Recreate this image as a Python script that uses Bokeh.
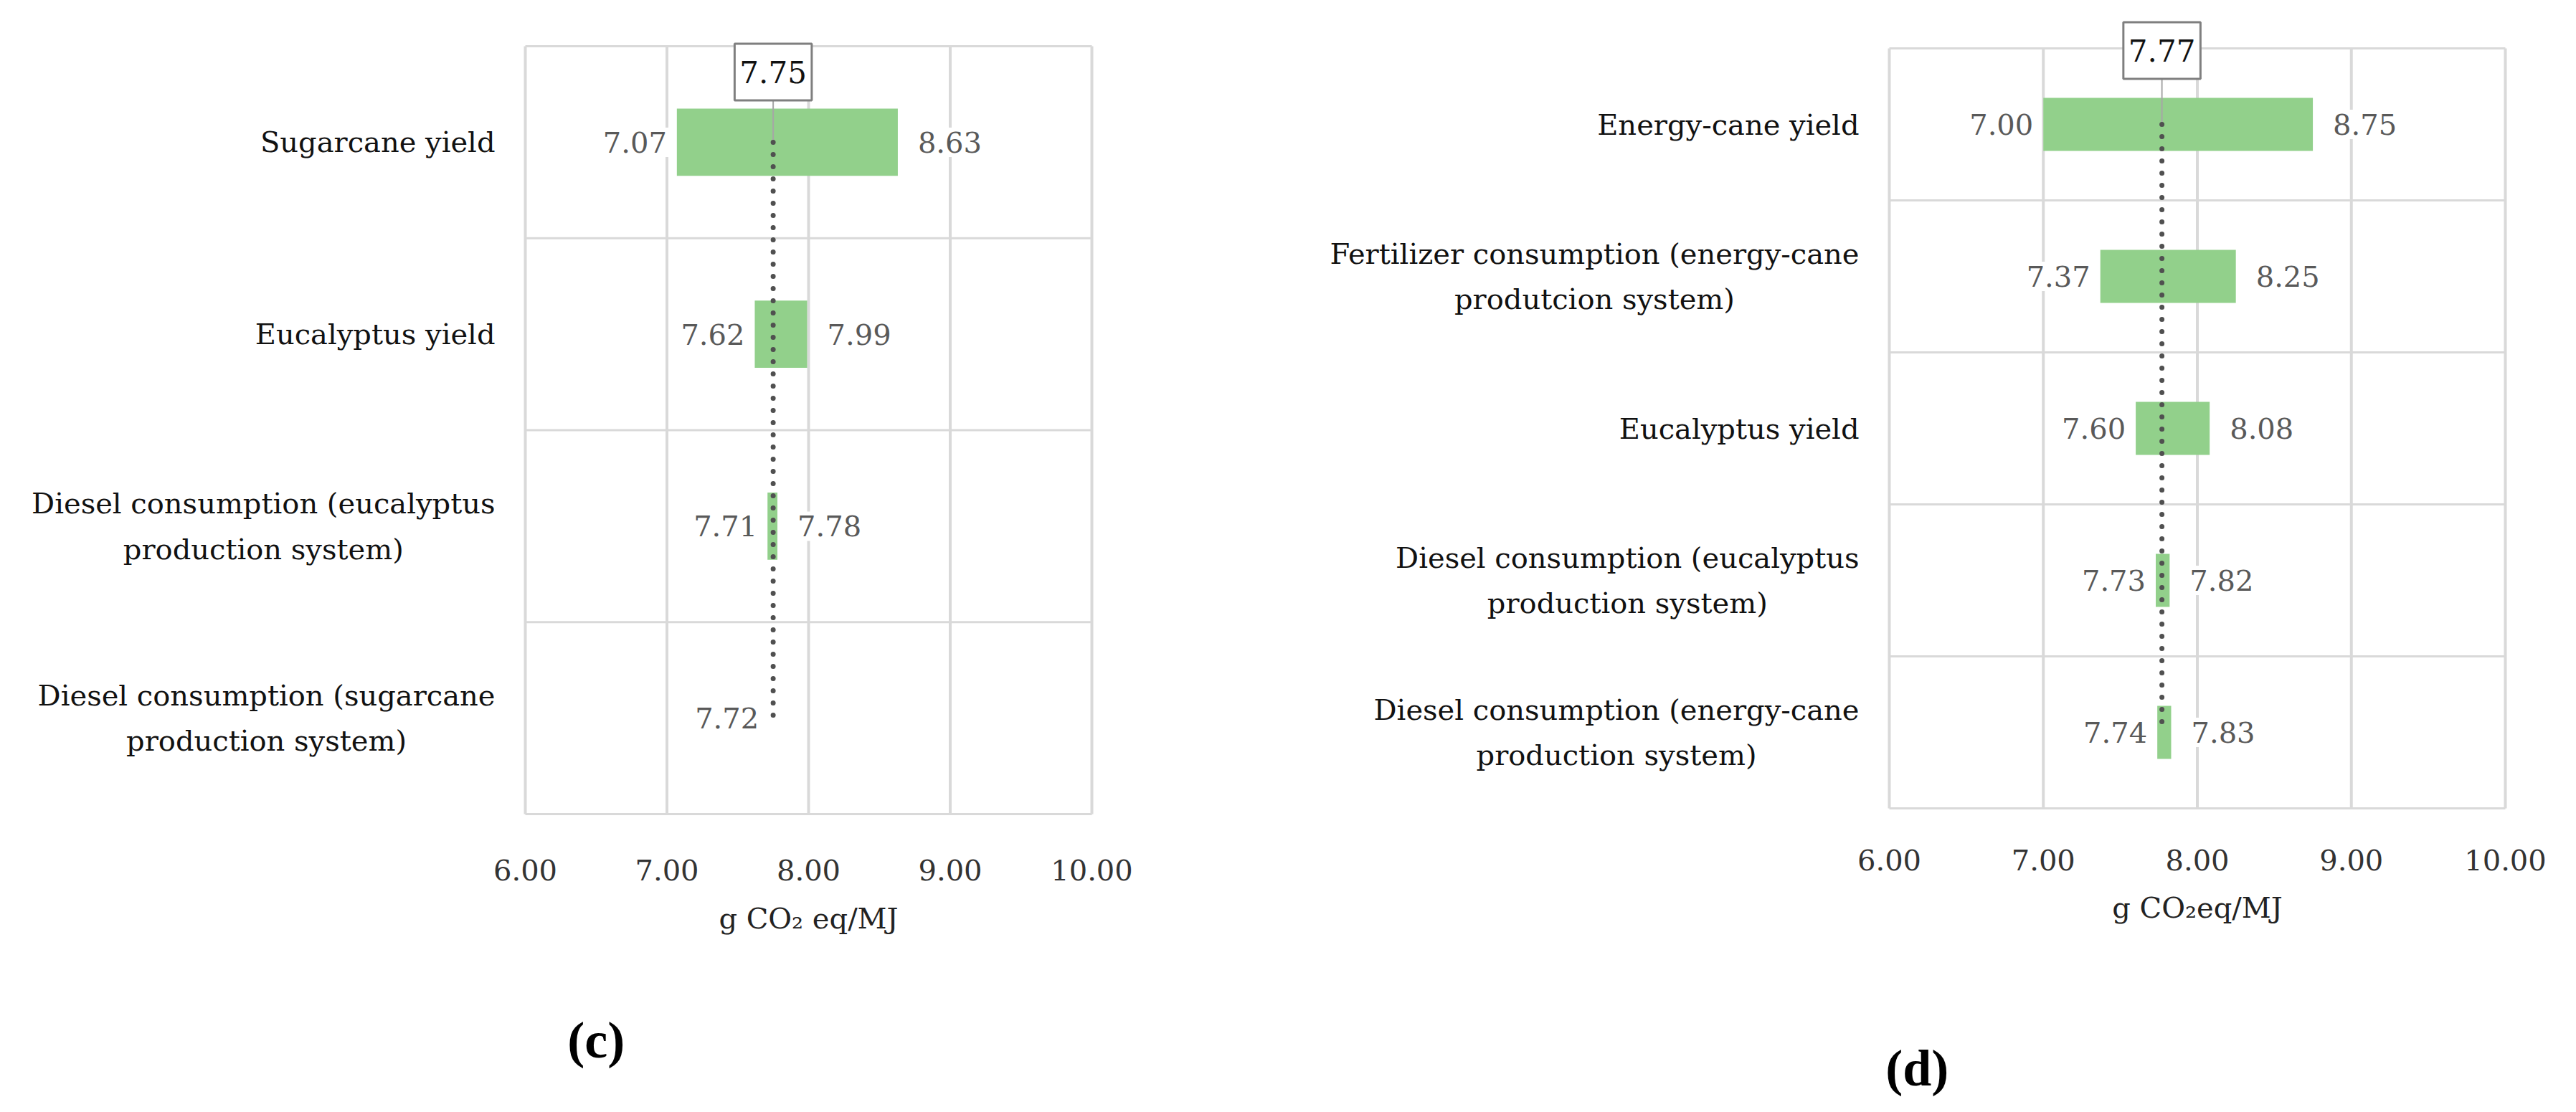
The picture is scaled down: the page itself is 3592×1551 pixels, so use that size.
from bokeh.plotting import figure
from bokeh.models import Range1d, Label
from bokeh.layouts import row
from bokeh.embed import file_html
from bokeh.resources import INLINE

# ---------------- data ----------------
# Panel (c)
c_categories = [
    "Sugarcane yield",
    "Eucalyptus yield",
    "Diesel consumption (eucalyptus\nproduction system)",
    "Diesel consumption (sugarcane\nproduction system)",
]
c_low = [7.07, 7.62, 7.71, 7.72]
c_high = [8.63, 7.99, 7.78, None]
c_base = 7.75
c_axis_title = "g CO\u2082 eq/MJ"
c_panel_label = "(c)"

# Panel (d)
d_categories = [
    "Energy-cane yield",
    "Fertilizer consumption (energy-cane\nprodutcion system)",
    "Eucalyptus yield",
    "Diesel consumption (eucalyptus\nproduction system)",
    "Diesel consumption (energy-cane\nproduction system)",
]
d_low = [7.00, 7.37, 7.60, 7.73, 7.74]
d_high = [8.75, 8.25, 8.08, 7.82, 7.83]
d_base = 7.77
d_axis_title = "g CO\u2082eq/MJ"
d_panel_label = "(d)"

x_ticks = [6, 7, 8, 9, 10]
x_tick_labels = ["6.00", "7.00", "8.00", "9.00", "10.00"]

# ---------------- style ----------------
FONT = "DejaVu Serif"
BOLD_FONT = "Liberation Serif"
FS = "40px"
GREEN = "#92d08b"
GRID = "#d9d9d9"
VALUE_COLOR = "#595959"
FIG_W, FIG_H = 1788, 1535


def make_panel(categories, low, high, base, axis_title, panel_label, lay):
    n = len(categories)
    ys = [n - 1 - i for i in range(n)]
    x0, x1 = x_ticks[0], x_ticks[-1]
    # frame covers the whole figure; plot area placed through the ranges
    sx = (lay["plot_right"] - lay["plot_left"]) / (x1 - x0)
    xs = x0 - lay["plot_left"] / sx
    sy = (lay["plot_bottom"] - lay["plot_top"]) / n
    ys_ = -0.5 - (FIG_H - lay["plot_bottom"]) / sy
    p = figure(
        width=FIG_W, height=FIG_H,
        x_range=Range1d(xs, xs + FIG_W / sx),
        y_range=Range1d(ys_, ys_ + FIG_H / sy),
        output_backend="svg", toolbar_location=None,
        x_axis_location=None, y_axis_location=None,
        min_border=0,
    )
    p.min_border_left = p.min_border_right = p.min_border_top = p.min_border_bottom = 0
    p.outline_line_color = None
    p.grid.visible = False
    p.background_fill_color = "white"
    p.border_fill_color = "white"

    # grid lines
    p.segment(x0=x_ticks, y0=[-0.5] * len(x_ticks), x1=x_ticks, y1=[n - 0.5] * len(x_ticks),
              line_color=GRID, line_width=4)
    bounds = [i - 0.5 for i in range(n + 1)]
    p.segment(x0=[x0] * len(bounds), y0=bounds, x1=[x1] * len(bounds), y1=bounds,
              line_color=GRID, line_width=3)

    # bars
    by, bl, bh = [], [], []
    for y, lo, hi in zip(ys, low, high):
        if lo is not None and hi is not None:
            by.append(y); bl.append(lo); bh.append(hi)
    p.hbar(y=by, left=bl, right=bh, height=0.35, fill_color=GREEN, line_color=None)

    # connector from the base-value box and dotted base line
    p.segment(x0=[base], y0=[n - 0.5], x1=[base], y1=[n - 1],
              line_color="#a6a6a6", line_width=2)
    p.line(x=[base, base], y=[n - 1, 0], line_color="#505050", line_width=7,
           line_dash="0 17", line_cap="round")

    # value labels
    for y, lo, hi in zip(ys, low, high):
        if lo is not None:
            p.add_layout(Label(x=lo, y=y, x_offset=-8, text=f"{lo:.2f}",
                               text_font=FONT, text_font_size=FS, text_color=VALUE_COLOR,
                               text_align="right", text_baseline="middle",
                               background_fill_color="white", padding=6))
        if hi is not None:
            p.add_layout(Label(x=hi, y=y, x_offset=22, text=f"{hi:.2f}",
                               text_font=FONT, text_font_size=FS, text_color=VALUE_COLOR,
                               text_align="left", text_baseline="middle",
                               background_fill_color="white", padding=6))

    # category labels
    for y, cat in zip(ys, categories):
        p.add_layout(Label(x=x0, y=y, x_offset=-42, text=cat,
                           text_font=FONT, text_font_size=FS, text_color="#111111",
                           text_align="center", text_baseline="middle",
                           anchor="center_right", text_line_height=1.38))

    # x tick labels
    for t, s in zip(x_ticks, x_tick_labels):
        p.add_layout(Label(x=t, y=-0.5, y_offset=-lay["tick_dy"], text=s,
                           text_font=FONT, text_font_size=FS, text_color="#333333",
                           text_align="center", text_baseline="middle"))
    # axis title
    p.add_layout(Label(x=(x0 + x1) / 2, y=-0.5, y_offset=-lay["title_dy"], text=axis_title,
                       text_font=FONT, text_font_size=FS, text_color="#222222",
                       text_align="center", text_baseline="middle"))

    # base value box
    p.add_layout(Label(x=base, y=n - 0.5, y_offset=lay["box_dy"], text=f"{base:.2f}",
                       text_font=FONT, text_font_size="42px", text_color="#111111",
                       text_align="center", text_baseline="middle",
                       background_fill_color="white", border_line_color="#7f7f7f",
                       border_line_width=3, padding=(7, 7, 24, 24)))

    # panel label
    p.add_layout(Label(x=lay["panel_x"], y=-0.5, y_offset=lay["panel_dy"], text=panel_label,
                       text_font=BOLD_FONT, text_font_size="72px", text_font_style="bold",
                       text_color="black", text_align="center", text_baseline="middle"))
    return p


left = make_panel(c_categories, c_low, c_high, c_base, c_axis_title, c_panel_label,
                  dict(plot_left=732, plot_right=1522, plot_top=64, plot_bottom=1135,
                       tick_dy=78, title_dy=145, box_dy=-36,
                       panel_x=6.5, panel_dy=-315))
right = make_panel(d_categories, d_low, d_high, d_base, d_axis_title, d_panel_label,
                   dict(plot_left=846, plot_right=1705, plot_top=67, plot_bottom=1127,
                        tick_dy=72, title_dy=138, box_dy=-3,
                        panel_x=6.18, panel_dy=-362))

layout = row(left, right)
open("out.html", "w").write(file_html(layout, INLINE))
